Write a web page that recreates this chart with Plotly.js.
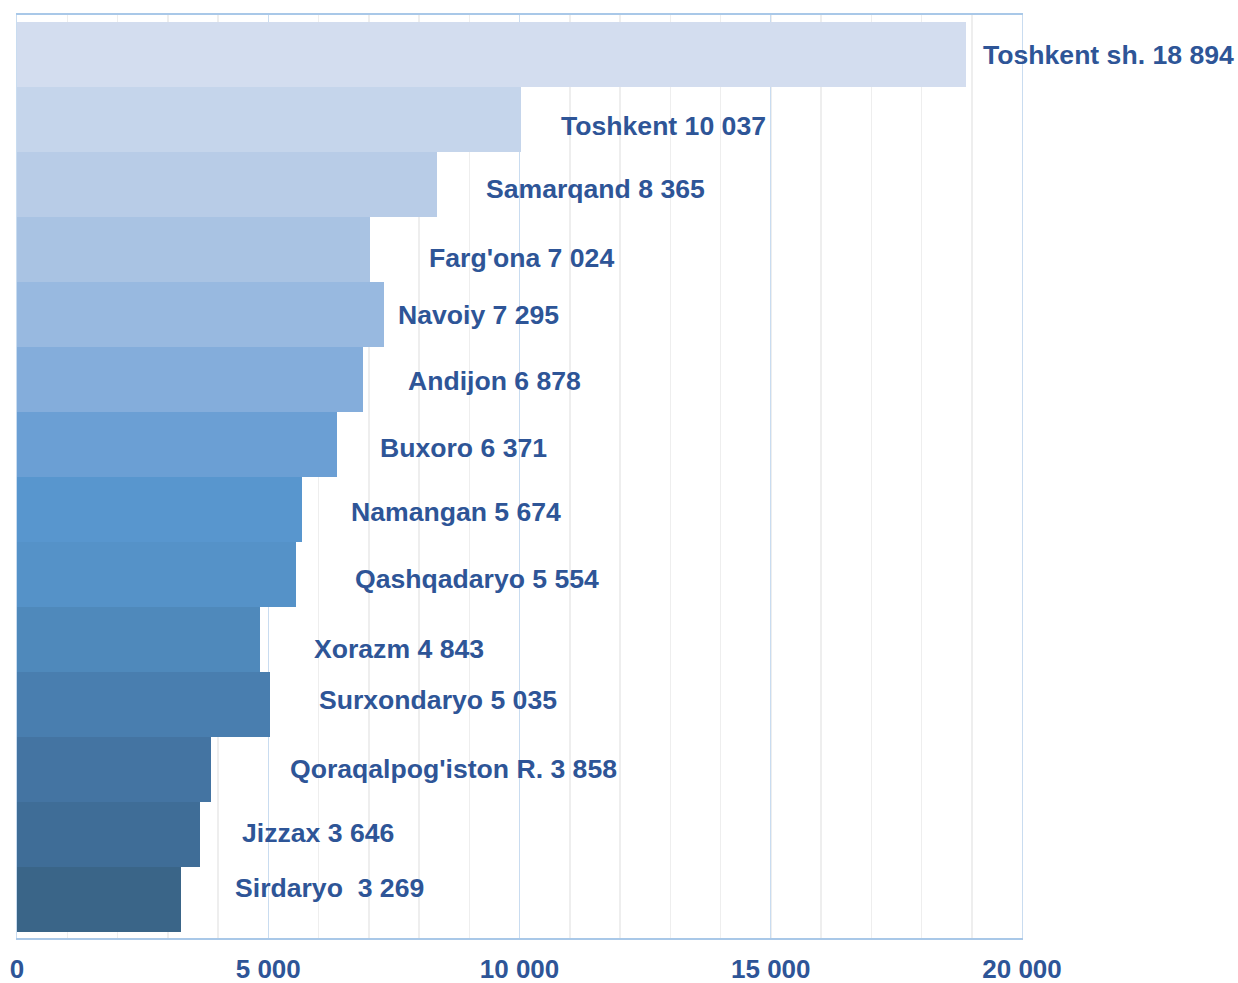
<!DOCTYPE html>
<html>
<head>
<meta charset="utf-8">
<script src="https://cdn.plot.ly/plotly-3.0.1.min.js"></script>
<style>html,body{margin:0;padding:0;background:#fff;}#chart{width:1238px;height:983px;}</style>
</head>
<body>
<div id="chart"></div>
<script>
// Data (top to bottom)
const regions = ["Toshkent sh.", "Toshkent", "Samarqand", "Farg'ona", "Navoiy", "Andijon", "Buxoro",
  "Namangan", "Qashqadaryo", "Xorazm", "Surxondaryo", "Qoraqalpog'iston R.", "Jizzax", "Sirdaryo "];
const values = [18894, 10037, 8365, 7024, 7295, 6878, 6371, 5674, 5554, 4843, 5035, 3858, 3646, 3269];
const tickValues = [0, 5000, 10000, 15000, 20000];
const tickLabels = ["0", "5 000", "10 000", "15 000", "20 000"];

// Styles
const barColors = ["#d3ddef", "#c5d5eb", "#b8cce7", "#a9c3e3", "#98b9e0", "#84addb", "#6b9fd4",
  "#5896ce", "#5592c8", "#4f89bb", "#497eaf", "#4474a2", "#3f6d97", "#3a6588"];
const labelXShift = [15, 38, 47, 57, 12, 43, 41, 47, 57, 52, 47, 77, 40, 52];
const labelYShift = [-1, -7, -5, -9, -1, -2, -4, -3, -5, -10, 4, 0, 1, 11];
const textColor = "#2e5597";

function fmt(v) { return String(v).replace(/\B(?=(\d{3})+(?!\d))/g, " "); }

const idx = regions.map((_, i) => i);
const trace = {
  type: "bar",
  orientation: "h",
  y: idx,
  x: values,
  width: 1,
  marker: { color: barColors, line: { width: 0 } },
  hoverinfo: "skip"
};

const annotations = regions.map((r, i) => ({
  x: values[i], y: i, xref: "x", yref: "y",
  text: "<b>" + r + " " + fmt(values[i]) + "</b>",
  showarrow: false, xanchor: "left", yanchor: "middle",
  xshift: labelXShift[i], yshift: labelYShift[i],
  font: { family: "Liberation Sans, Arial, sans-serif", size: 26.6, color: textColor }
}));

const layout = {
  width: 1238, height: 983,
  margin: { l: 17, r: 216, t: 15, b: 45, pad: 0 },
  paper_bgcolor: "#ffffff", plot_bgcolor: "#ffffff",
  showlegend: false,
  bargap: 0,
  xaxis: {
    range: [0, 20000],
    tickmode: "array", tickvals: tickValues, ticktext: tickLabels,
    ticks: "", showgrid: true, gridcolor: "#c9dcf0", gridwidth: 1,
    minor: { dtick: 1000, showgrid: true, gridcolor: "#eeeeee", gridwidth: 1.5, ticks: "" },
    showline: true, linecolor: "#a9c8e8", linewidth: 2, mirror: true,
    zeroline: false,
    ticklabelstandoff: 7,
    tickfont: { family: "Liberation Sans, Arial, sans-serif", size: 26, color: textColor, weight: "bold" },
    fixedrange: true
  },
  yaxis: {
    range: [13.6, -0.6],
    showticklabels: false, ticks: "", showgrid: false, zeroline: false,
    showline: true, linecolor: "#c9dcf0", linewidth: 1, mirror: true,
    fixedrange: true
  },
  annotations: annotations
};

Plotly.newPlot("chart", [trace], layout, { staticPlot: true, displayModeBar: false });
</script>
</body>
</html>
